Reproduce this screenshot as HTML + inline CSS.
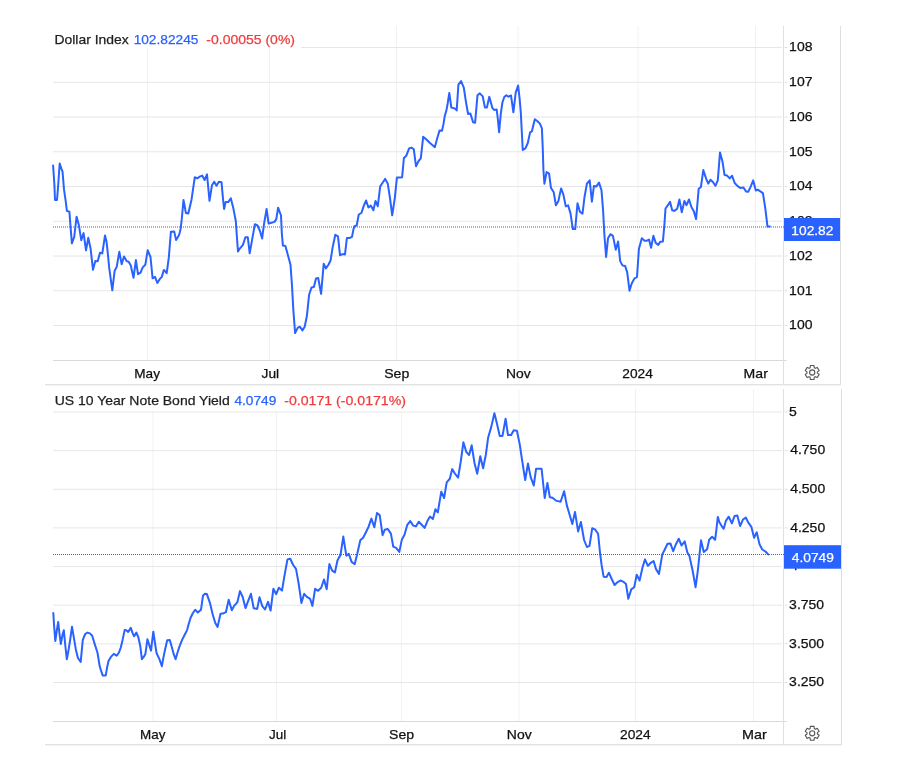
<!DOCTYPE html>
<html><head><meta charset="utf-8"><title>Charts</title>
<style>
html,body{margin:0;padding:0;background:#fff;width:902px;height:768px;overflow:hidden}
svg{display:block;will-change:transform}
text{font-family:"Liberation Sans", sans-serif;font-size:13px}
</style></head><body>
<svg width="902" height="768" viewBox="0 0 902 768">
<rect width="902" height="768" fill="#fff"/>
<line x1="147.4" y1="26" x2="147.4" y2="360.5" stroke="#eef2f4" stroke-width="1"/>
<line x1="269.5" y1="26" x2="269.5" y2="360.5" stroke="#eef2f4" stroke-width="1"/>
<line x1="396.5" y1="26" x2="396.5" y2="360.5" stroke="#eef2f4" stroke-width="1"/>
<line x1="518" y1="26" x2="518" y2="360.5" stroke="#eef2f4" stroke-width="1"/>
<line x1="638" y1="26" x2="638" y2="360.5" stroke="#eef2f4" stroke-width="1"/>
<line x1="755.5" y1="26" x2="755.5" y2="360.5" stroke="#eef2f4" stroke-width="1"/>
<line x1="53" y1="47.5" x2="782" y2="47.5" stroke="#e6e6e6" stroke-width="1"/>
<line x1="784.5" y1="47.5" x2="787.5" y2="47.5" stroke="#e0e0e0" stroke-width="1"/>
<line x1="53" y1="82.25" x2="782" y2="82.25" stroke="#e6e6e6" stroke-width="1"/>
<line x1="784.5" y1="82.25" x2="787.5" y2="82.25" stroke="#e0e0e0" stroke-width="1"/>
<line x1="53" y1="117" x2="782" y2="117" stroke="#e6e6e6" stroke-width="1"/>
<line x1="784.5" y1="117" x2="787.5" y2="117" stroke="#e0e0e0" stroke-width="1"/>
<line x1="53" y1="151.75" x2="782" y2="151.75" stroke="#e6e6e6" stroke-width="1"/>
<line x1="784.5" y1="151.75" x2="787.5" y2="151.75" stroke="#e0e0e0" stroke-width="1"/>
<line x1="53" y1="186.5" x2="782" y2="186.5" stroke="#e6e6e6" stroke-width="1"/>
<line x1="784.5" y1="186.5" x2="787.5" y2="186.5" stroke="#e0e0e0" stroke-width="1"/>
<line x1="53" y1="221.25" x2="782" y2="221.25" stroke="#e6e6e6" stroke-width="1"/>
<line x1="784.5" y1="221.25" x2="787.5" y2="221.25" stroke="#e0e0e0" stroke-width="1"/>
<line x1="53" y1="256" x2="782" y2="256" stroke="#e6e6e6" stroke-width="1"/>
<line x1="784.5" y1="256" x2="787.5" y2="256" stroke="#e0e0e0" stroke-width="1"/>
<line x1="53" y1="290.75" x2="782" y2="290.75" stroke="#e6e6e6" stroke-width="1"/>
<line x1="784.5" y1="290.75" x2="787.5" y2="290.75" stroke="#e0e0e0" stroke-width="1"/>
<line x1="53" y1="325.5" x2="782" y2="325.5" stroke="#e6e6e6" stroke-width="1"/>
<line x1="784.5" y1="325.5" x2="787.5" y2="325.5" stroke="#e0e0e0" stroke-width="1"/>
<rect x="50" y="26" width="251" height="22.5" fill="#fff"/>
<line x1="53" y1="360.5" x2="786.5" y2="360.5" stroke="#d9d9d9" stroke-width="1"/>
<line x1="783.5" y1="26" x2="783.5" y2="384.0" stroke="#e0e0e0" stroke-width="1"/>
<line x1="840.5" y1="26" x2="840.5" y2="385.5" stroke="#dedede" stroke-width="1"/>
<line x1="45" y1="384.5" x2="841.0" y2="384.5" stroke="#e2e2e2" stroke-width="1"/>
<line x1="45" y1="385.5" x2="841.0" y2="385.5" stroke="#f4f4f4" stroke-width="1"/>
<text x="789.12" y="51.35" fill="#111" stroke="#111" stroke-width="0.25" textLength="23.33" lengthAdjust="spacingAndGlyphs">108</text>
<text x="789.12" y="86.1" fill="#111" stroke="#111" stroke-width="0.25" textLength="23.33" lengthAdjust="spacingAndGlyphs">107</text>
<text x="789.12" y="120.85" fill="#111" stroke="#111" stroke-width="0.25" textLength="23.33" lengthAdjust="spacingAndGlyphs">106</text>
<text x="789.12" y="155.6" fill="#111" stroke="#111" stroke-width="0.25" textLength="23.33" lengthAdjust="spacingAndGlyphs">105</text>
<text x="789.12" y="190.35" fill="#111" stroke="#111" stroke-width="0.25" textLength="23.33" lengthAdjust="spacingAndGlyphs">104</text>
<text x="789.12" y="259.85" fill="#111" stroke="#111" stroke-width="0.25" textLength="23.33" lengthAdjust="spacingAndGlyphs">102</text>
<text x="789.12" y="294.6" fill="#111" stroke="#111" stroke-width="0.25" textLength="23.33" lengthAdjust="spacingAndGlyphs">101</text>
<text x="789.12" y="329.35" fill="#111" stroke="#111" stroke-width="0.25" textLength="23.33" lengthAdjust="spacingAndGlyphs">100</text>
<text x="789.12" y="225.1" fill="#111" stroke="#111" stroke-width="0.25" textLength="23.33" lengthAdjust="spacingAndGlyphs">103</text>
<text x="134.25" y="377.9" fill="#111" stroke="#111" stroke-width="0.25" textLength="25.69" lengthAdjust="spacingAndGlyphs">May</text>
<text x="261.6" y="377.9" fill="#111" stroke="#111" stroke-width="0.25" textLength="17.56" lengthAdjust="spacingAndGlyphs">Jul</text>
<text x="384.22" y="377.9" fill="#111" stroke="#111" stroke-width="0.25" textLength="25.03" lengthAdjust="spacingAndGlyphs">Sep</text>
<text x="505.93" y="377.9" fill="#111" stroke="#111" stroke-width="0.25" textLength="24.7" lengthAdjust="spacingAndGlyphs">Nov</text>
<text x="622.24" y="377.9" fill="#111" stroke="#111" stroke-width="0.25" textLength="30.57" lengthAdjust="spacingAndGlyphs">2024</text>
<text x="743.62" y="377.9" fill="#111" stroke="#111" stroke-width="0.25" textLength="24.2" lengthAdjust="spacingAndGlyphs">Mar</text>
<line x1="53" y1="227" x2="784" y2="227" stroke="#2962ff" stroke-width="1" stroke-dasharray="1,1"/>
<path d="M53.1 165.6 L54.4 184.7 L55 200 L57 200 L58.1 186.25 L59.7 163.6 L61.25 168.3 L62.5 171.4 L64 189.4 L65.6 200.3 L66.9 211 L69.4 211.6 L70.3 223.75 L71.9 243.3 L74.2 237 L76.6 216.7 L78.9 225.3 L81.25 240.2 L83.6 233.1 L86 250.3 L88.3 237.8 L90.6 248.75 L93 269.8 L95.3 260.9 L97.7 261.25 L100 252.7 L102.3 253.4 L105 235.5 L106.5 241.4 L107.8 253.3 L109.2 267.9 L112.3 290.3 L114.6 271 L116.7 266.9 L119.3 251.8 L121.7 264.3 L124 256.5 L126.6 261.1 L128.6 261.7 L130.7 265.3 L133.5 277.8 L135.9 260.1 L138 274.2 L140.6 272.6 L142.7 267.4 L145.3 264.8 L147.7 250.2 L150.5 257 L152.6 278.3 L155 276.8 L157.3 283 L159.9 278.9 L161.8 276.9 L163.9 269.9 L166.7 273.2 L168.8 257.7 L170.9 231.7 L174.2 231.4 L176.1 240.1 L179.1 234.9 L180.7 228.4 L181.8 218.7 L183.5 200 L185.9 213 L188.3 213.5 L191.6 199.2 L194.8 177.2 L197.3 178.3 L199.7 176.7 L202.2 175.6 L204.6 180 L207 174.4 L209.5 200.8 L212 185.2 L214.2 181.7 L216.5 185.8 L218.9 181.7 L221.5 182.2 L223 198.9 L224.1 209 L225.6 202.1 L228.2 202.1 L230.8 198.2 L233.4 208.6 L235.8 221 L236.7 234 L238 251.6 L240 248.3 L242.8 245.1 L245.4 237.3 L247.8 237.3 L249.7 253.3 L252.3 238.6 L254.9 224.2 L257.5 225.5 L260.1 231.4 L262.1 238.6 L264 224.2 L266.6 209 L268.6 223.6 L271.4 222.8 L274.5 221.9 L276.3 219.1 L278.1 207.7 L281 215.5 L281.8 232.8 L282.9 245.6 L285.4 245.9 L287.8 254.7 L290.5 264.7 L292 285.7 L293.3 309.4 L295.1 333.1 L297.8 327.6 L300 326.7 L302.4 330.4 L304.7 326.7 L306.9 315.8 L309.1 294.8 L311.5 287.5 L313.9 287.1 L316 278.4 L318.2 278 L321.1 293.9 L323.7 263.8 L325.9 268.4 L328.6 264.5 L330.6 260.3 L332.5 248.1 L335.3 234.8 L338 236.4 L340 255.2 L342.7 254.1 L345 254.4 L346.9 238 L349.4 238 L352 236.9 L353.6 228.6 L354.7 225.9 L356.7 225.5 L358.75 214.5 L361.4 213 L363.75 205.9 L366.1 200.5 L368.4 207.5 L370.8 205.6 L373.4 210.3 L375.5 200.9 L377.8 206.25 L380.2 186.4 L382.8 182.5 L385.2 178.9 L387.8 183.8 L390 198.1 L392.2 215.3 L394.8 198.1 L396.9 177.6 L399.7 177.6 L402.1 177.3 L403.9 158 L406.25 155.8 L409.1 148.4 L411.5 147.6 L413.8 149.3 L416 166.2 L418.6 161 L420.8 158.4 L423.2 136.7 L426.4 139.5 L429.7 142.8 L432.3 145 L434.9 147.1 L437.3 138 L439.6 130.4 L442 130.7 L443.5 123.9 L444.7 116.3 L446.4 110.4 L447.6 104 L449.3 92.9 L451.3 107.5 L453.4 108.1 L455.2 108.7 L456.7 110.4 L458.4 84.65 L461.1 81.1 L463.8 87.6 L465.2 97 L466.6 105.8 L468.1 114 L470.4 113.6 L473.1 122.2 L475.1 122.75 L477.5 95.2 L479.8 93.4 L482.75 96.4 L484.9 107.5 L486.9 107.5 L489.3 96.8 L490.9 102.5 L492.3 107.8 L494.1 109.9 L496.7 109.6 L497.9 119.5 L499.1 132.2 L500.8 113.7 L502.4 102.5 L504.3 97 L506.3 95.2 L508.4 96.7 L511 95.5 L513.4 112.3 L515.7 92.6 L518.1 85.55 L519.6 98.4 L520.8 112.5 L522.75 150 L525.4 148.3 L527.8 143 L530.1 132.4 L531.9 131.3 L534.8 119.3 L537.5 121.3 L539.9 123.65 L541.9 128.3 L542.8 149.4 L543.4 169.7 L544.4 183.75 L546.6 172 L549.1 173.6 L550.9 187.7 L553.75 192.3 L555.9 205.3 L558.4 200.9 L561.1 188.4 L563.4 194.7 L565.8 206.4 L568.1 205.3 L570.5 213.4 L572.8 229.1 L575.2 229.1 L577.5 203.3 L579.8 211.6 L582.5 213.75 L584.5 197 L586.9 183.75 L589.7 180.3 L591.9 201.7 L593.9 186.1 L596.25 186.6 L599 182.6 L601.5 190.3 L603.1 210.7 L604.4 235 L606.1 257 L608 238.3 L610.4 234.2 L612.9 235.9 L615.8 249.7 L618.1 241.5 L620.2 261.1 L622.6 265.6 L625.1 265.9 L627.2 272.4 L629.5 290.7 L631.6 283.8 L634.3 278.6 L637 277 L638.9 248.9 L641.8 238.3 L644.6 240.7 L647 240.7 L649 239.6 L651.1 247.7 L653.4 235.8 L655.7 242.9 L658.3 244.9 L660.3 241.7 L662.9 241.4 L664.3 226 L665.5 208.5 L667.9 205.2 L670.1 201.9 L672.2 210.2 L674.4 210.9 L677.2 208.8 L679.4 199.5 L681.8 212.3 L684.4 200.9 L686.5 205.2 L689 199.5 L691.5 207.3 L693.7 210.9 L696.1 219.1 L698.7 188.7 L700.9 187 L703.3 170.1 L706.3 179.1 L708.3 183.6 L710.5 179.7 L713.1 182.3 L715.4 185.8 L717.8 180.4 L720 152.4 L722.6 162.1 L724.5 174.9 L726.9 175.4 L729.7 178.4 L732.1 175.8 L734.7 183 L737.6 186.2 L740.2 187.9 L743.4 187.5 L746 191.4 L748.2 191.8 L750.6 186.9 L753.2 180.4 L755.8 190.5 L757.7 189.7 L760.3 191.4 L762.9 193.1 L765.2 207.7 L767.5 226.6 L769.8 226.6" fill="none" stroke="#2962ff" stroke-width="2" stroke-linejoin="round" stroke-linecap="round"/>
<rect x="784" y="218" width="56" height="23" fill="#2962ff"/>
<text x="791.34" y="234.7" fill="#fff" stroke="#fff" stroke-width="0.25" textLength="42.07" lengthAdjust="spacingAndGlyphs">102.82</text>
<text x="54.53" y="43.8" fill="#1f1f1f" stroke="#1f1f1f" stroke-width="0.25" textLength="74.17" lengthAdjust="spacingAndGlyphs">Dollar Index</text>
<text x="133.65" y="43.8" fill="#2962ff" stroke="#2962ff" stroke-width="0.25" textLength="64.73" lengthAdjust="spacingAndGlyphs">102.82245</text>
<text x="206.32" y="43.8" fill="#f03c3c" stroke="#f03c3c" stroke-width="0.25" textLength="88.7" lengthAdjust="spacingAndGlyphs">-0.00055 (0%)</text>
<path d="M810.18 367.71 L810.35 365.54 L814.05 365.54 L814.22 367.71 L815.34 368.35 L817.3 367.42 L819.15 370.62 L817.36 371.86 L817.36 373.14 L819.15 374.38 L817.3 377.58 L815.34 376.65 L814.22 377.29 L814.05 379.46 L810.35 379.46 L810.18 377.29 L809.06 376.65 L807.1 377.58 L805.25 374.38 L807.04 373.14 L807.04 371.86 L805.25 370.62 L807.1 367.42 L809.06 368.35Z" fill="none" stroke="#555" stroke-width="1.1" stroke-linejoin="round"/><circle cx="812.2" cy="372.5" r="2.6" fill="none" stroke="#555" stroke-width="1.1"/>
<line x1="152.9" y1="389" x2="152.9" y2="721.5" stroke="#eef2f4" stroke-width="1"/>
<line x1="276.6" y1="389" x2="276.6" y2="721.5" stroke="#eef2f4" stroke-width="1"/>
<line x1="401.5" y1="389" x2="401.5" y2="721.5" stroke="#eef2f4" stroke-width="1"/>
<line x1="519" y1="389" x2="519" y2="721.5" stroke="#eef2f4" stroke-width="1"/>
<line x1="635.5" y1="389" x2="635.5" y2="721.5" stroke="#eef2f4" stroke-width="1"/>
<line x1="753.5" y1="389" x2="753.5" y2="721.5" stroke="#eef2f4" stroke-width="1"/>
<line x1="53" y1="412" x2="782" y2="412" stroke="#e6e6e6" stroke-width="1"/>
<line x1="784.5" y1="412" x2="787.5" y2="412" stroke="#e0e0e0" stroke-width="1"/>
<line x1="53" y1="450.64" x2="782" y2="450.64" stroke="#e6e6e6" stroke-width="1"/>
<line x1="784.5" y1="450.64" x2="787.5" y2="450.64" stroke="#e0e0e0" stroke-width="1"/>
<line x1="53" y1="489.28" x2="782" y2="489.28" stroke="#e6e6e6" stroke-width="1"/>
<line x1="784.5" y1="489.28" x2="787.5" y2="489.28" stroke="#e0e0e0" stroke-width="1"/>
<line x1="53" y1="527.92" x2="782" y2="527.92" stroke="#e6e6e6" stroke-width="1"/>
<line x1="784.5" y1="527.92" x2="787.5" y2="527.92" stroke="#e0e0e0" stroke-width="1"/>
<line x1="53" y1="566.56" x2="782" y2="566.56" stroke="#e6e6e6" stroke-width="1"/>
<line x1="784.5" y1="566.56" x2="787.5" y2="566.56" stroke="#e0e0e0" stroke-width="1"/>
<line x1="53" y1="605.2" x2="782" y2="605.2" stroke="#e6e6e6" stroke-width="1"/>
<line x1="784.5" y1="605.2" x2="787.5" y2="605.2" stroke="#e0e0e0" stroke-width="1"/>
<line x1="53" y1="643.84" x2="782" y2="643.84" stroke="#e6e6e6" stroke-width="1"/>
<line x1="784.5" y1="643.84" x2="787.5" y2="643.84" stroke="#e0e0e0" stroke-width="1"/>
<line x1="53" y1="682.48" x2="782" y2="682.48" stroke="#e6e6e6" stroke-width="1"/>
<line x1="784.5" y1="682.48" x2="787.5" y2="682.48" stroke="#e0e0e0" stroke-width="1"/>
<rect x="50" y="389" width="362" height="22.19999999999999" fill="#fff"/>
<line x1="53" y1="721.5" x2="786.5" y2="721.5" stroke="#d9d9d9" stroke-width="1"/>
<line x1="783.5" y1="389" x2="783.5" y2="744.0" stroke="#e0e0e0" stroke-width="1"/>
<line x1="841.5" y1="389" x2="841.5" y2="745.5" stroke="#dedede" stroke-width="1"/>
<line x1="45" y1="744.5" x2="842.0" y2="744.5" stroke="#e2e2e2" stroke-width="1"/>
<line x1="45" y1="745.5" x2="842.0" y2="745.5" stroke="#f4f4f4" stroke-width="1"/>
<text x="789.12" y="415.85" fill="#111" stroke="#111" stroke-width="0.25" textLength="7.78" lengthAdjust="spacingAndGlyphs">5</text>
<text x="790.2" y="454.49" fill="#111" stroke="#111" stroke-width="0.25" textLength="34.99" lengthAdjust="spacingAndGlyphs">4.750</text>
<text x="790.2" y="493.13" fill="#111" stroke="#111" stroke-width="0.25" textLength="34.99" lengthAdjust="spacingAndGlyphs">4.500</text>
<text x="790.2" y="531.77" fill="#111" stroke="#111" stroke-width="0.25" textLength="34.99" lengthAdjust="spacingAndGlyphs">4.250</text>
<text x="789.12" y="609.05" fill="#111" stroke="#111" stroke-width="0.25" textLength="34.99" lengthAdjust="spacingAndGlyphs">3.750</text>
<text x="789.12" y="647.69" fill="#111" stroke="#111" stroke-width="0.25" textLength="34.99" lengthAdjust="spacingAndGlyphs">3.500</text>
<text x="789.12" y="686.33" fill="#111" stroke="#111" stroke-width="0.25" textLength="34.99" lengthAdjust="spacingAndGlyphs">3.250</text>
<text x="790.2" y="570.41" fill="#111" stroke="#111" stroke-width="0.25" textLength="7.78" lengthAdjust="spacingAndGlyphs">4</text>
<text x="139.97" y="738.9" fill="#111" stroke="#111" stroke-width="0.25" textLength="25.38" lengthAdjust="spacingAndGlyphs">May</text>
<text x="269.1" y="738.9" fill="#111" stroke="#111" stroke-width="0.25" textLength="17.25" lengthAdjust="spacingAndGlyphs">Jul</text>
<text x="389.02" y="738.9" fill="#111" stroke="#111" stroke-width="0.25" textLength="25.03" lengthAdjust="spacingAndGlyphs">Sep</text>
<text x="506.83" y="738.9" fill="#111" stroke="#111" stroke-width="0.25" textLength="24.81" lengthAdjust="spacingAndGlyphs">Nov</text>
<text x="620.04" y="738.9" fill="#111" stroke="#111" stroke-width="0.25" textLength="30.68" lengthAdjust="spacingAndGlyphs">2024</text>
<text x="742" y="738.9" fill="#111" stroke="#111" stroke-width="0.25" textLength="24.74" lengthAdjust="spacingAndGlyphs">Mar</text>
<line x1="53" y1="554.5" x2="784" y2="554.5" stroke="#2962ff" stroke-width="1" stroke-dasharray="1,1"/>
<path d="M53.3 613.1 L54.1 625.8 L55.3 641 L56.8 630.5 L58.2 622 L59.4 632.8 L60.8 644 L62.7 634 L63.8 630.2 L65.2 644.5 L66.8 659.2 L68.8 648.7 L70.5 637.5 L72 626.7 L74 638.7 L75.8 649.2 L77.9 658 L80.7 661.9 L82.8 639.9 L85.2 634 L87.5 632.6 L89.9 633.4 L92.2 635.8 L94.5 643.4 L97.5 652.75 L99.8 666.8 L102.75 675.6 L105.7 675.6 L107.1 667.4 L108.5 661 L110.9 656.9 L113.8 653.9 L116.7 655.7 L119.1 652.2 L120.8 647.5 L122.6 639.9 L124.7 629.9 L126.3 630.2 L128.2 631.9 L130.8 627.9 L132.5 632.8 L134.1 636.3 L136.4 632.6 L138.4 637.5 L140.2 645.7 L141.9 659.2 L143.7 656.9 L145.4 653.9 L147.4 639.3 L149.3 645.1 L151 650.6 L153.3 631.7 L155.2 644.5 L156.6 653.3 L159.2 658.6 L161.9 666.2 L163.3 658.1 L165.2 649 L167.2 640.2 L169.8 639.9 L172 647.7 L173.7 654.2 L175.6 659.2 L177.6 652.3 L179.5 646.4 L182.1 639.9 L184.7 634.7 L187.1 630.1 L188.6 624.3 L190.6 617.8 L192.8 613.2 L195.2 609.7 L197.8 612.6 L201 609.7 L203 595.6 L204.9 593.7 L206.9 594.1 L210.1 603.4 L212.7 614.5 L215.3 623 L217.6 626.9 L220.5 613.75 L222.8 613.6 L225.9 612.2 L228.7 599.7 L231.8 610.2 L234.1 605.9 L237.3 602.4 L240 591.1 L242.7 597 L245.5 608.1 L248.2 600.9 L250.9 593.8 L253.7 608.3 L257.2 608.9 L259.5 597.3 L262.3 606.1 L265 609.5 L268 601.9 L270.6 610.6 L273.4 588.75 L276.2 594.2 L278.9 587.7 L282 590.6 L284.1 577.8 L286 567.3 L287.5 559.4 L290.2 558.7 L293.2 565 L296 568.9 L298.3 581.5 L300.1 593.3 L301.4 602.9 L304.2 593.8 L306.9 596.8 L310.1 598.8 L312.4 605.9 L315.1 588.8 L318.1 590.8 L321.2 587.8 L324 579.5 L326.7 589.2 L329.4 564.1 L332.2 570.6 L334.9 572.5 L337.4 560.7 L338.9 557.6 L340.5 555.1 L343.3 536.6 L346.3 555.7 L348.8 553.9 L351.6 561.9 L354.7 564.2 L357.4 553.3 L360.3 540.3 L363.1 537.8 L365.8 532.5 L368.6 526.7 L371.4 518.6 L374.3 527.3 L377 513 L379.7 515.1 L382.6 535.2 L384.7 529.8 L387.8 529 L390.9 533.6 L393.3 546.7 L396.1 547.9 L399.3 551.9 L401.9 539.4 L404.5 534.7 L407.3 524.8 L410.2 521.1 L413.3 525.6 L415.9 526.4 L418.75 521.7 L421.7 524.8 L424.6 527.9 L427.4 521.1 L430 516.5 L432.9 519.1 L435.4 509.2 L437.8 512.5 L441.25 491.7 L444.1 498 L446.7 482.3 L449.8 478.75 L452.2 469.1 L455 473.75 L458.1 477.7 L460.8 461.25 L463.4 442.2 L466.25 451.9 L469.1 455 L471.7 445.3 L474.4 462.5 L477.2 473.75 L480.3 456.25 L483.1 468.3 L485.8 455 L488.1 437.8 L491.25 426.9 L494.4 413.2 L497 423.75 L499.7 435.9 L502.5 435.9 L505.6 418.75 L508 435 L511.1 435 L513.75 430.3 L516.9 430.8 L519.7 444.1 L522 459.7 L525.2 480 L528 463.6 L530.6 476.9 L533.75 485.5 L536.1 468.75 L541.6 468.75 L544.7 498 L547.4 483 L549.8 497.2 L552.5 497.8 L555.9 500.6 L560.6 501.7 L564.1 491.25 L566.9 505.6 L569.7 515 L572.3 524.1 L575 511.9 L578.1 531.4 L580.9 522 L584.1 540 L586.9 547 L589.5 545.9 L592.2 528.3 L595 529.4 L598.1 533.75 L600 552.5 L601.6 565 L603.6 576.7 L606.5 577.1 L608.9 572.7 L611.7 579 L614.6 585 L617.7 582.1 L620.3 580.5 L623.1 581.6 L626 584 L628.3 598.75 L631.25 589.4 L634.2 587.3 L636.7 574.8 L639.6 580.5 L642.5 567.5 L645 559.4 L647.9 565.9 L650.8 562.8 L653.6 561 L656 569.1 L659 573.9 L660.7 563.75 L662.3 554.4 L664.9 549.2 L667.5 543.75 L670.4 543.4 L673.2 551.25 L675.8 544.5 L678.75 538.75 L681.6 545.5 L684.7 541.4 L687.3 552.3 L689.4 555.9 L692.5 570 L695.6 587.2 L697.9 570 L701 540.3 L703.75 552.1 L707.1 549.2 L709.2 539.8 L712.1 536.7 L715.1 539.8 L716.25 530.8 L717.8 516.9 L719.4 522.2 L721.7 526.1 L723.7 528.8 L726 520.6 L728.75 516.7 L731.9 523.4 L734.6 515.9 L737.3 515.5 L740.1 526.1 L742.8 519.8 L745.8 517.5 L748.3 522.6 L751.4 526.9 L754.1 537.8 L756.7 532.2 L759.6 544.5 L762.3 549.5 L765.5 551.5 L768.2 554.4" fill="none" stroke="#2962ff" stroke-width="2" stroke-linejoin="round" stroke-linecap="round"/>
<rect x="784" y="545.2" width="57" height="23.5" fill="#2962ff"/>
<text x="791.8" y="562.1" fill="#fff" stroke="#fff" stroke-width="0.25" textLength="42.11" lengthAdjust="spacingAndGlyphs">4.0749</text>
<text x="54.72" y="405" fill="#1f1f1f" stroke="#1f1f1f" stroke-width="0.25" textLength="174.95" lengthAdjust="spacingAndGlyphs">US 10 Year Note Bond Yield</text>
<text x="234.4" y="405" fill="#2962ff" stroke="#2962ff" stroke-width="0.25" textLength="42.01" lengthAdjust="spacingAndGlyphs">4.0749</text>
<text x="284.21" y="405" fill="#f03c3c" stroke="#f03c3c" stroke-width="0.25" textLength="121.79" lengthAdjust="spacingAndGlyphs">-0.0171 (-0.0171%)</text>
<path d="M810.18 728.51 L810.35 726.34 L814.05 726.34 L814.22 728.51 L815.34 729.15 L817.3 728.22 L819.15 731.42 L817.36 732.66 L817.36 733.94 L819.15 735.18 L817.3 738.38 L815.34 737.45 L814.22 738.09 L814.05 740.26 L810.35 740.26 L810.18 738.09 L809.06 737.45 L807.1 738.38 L805.25 735.18 L807.04 733.94 L807.04 732.66 L805.25 731.42 L807.1 728.22 L809.06 729.15Z" fill="none" stroke="#555" stroke-width="1.1" stroke-linejoin="round"/><circle cx="812.2" cy="733.3" r="2.6" fill="none" stroke="#555" stroke-width="1.1"/>
</svg>
</body></html>
